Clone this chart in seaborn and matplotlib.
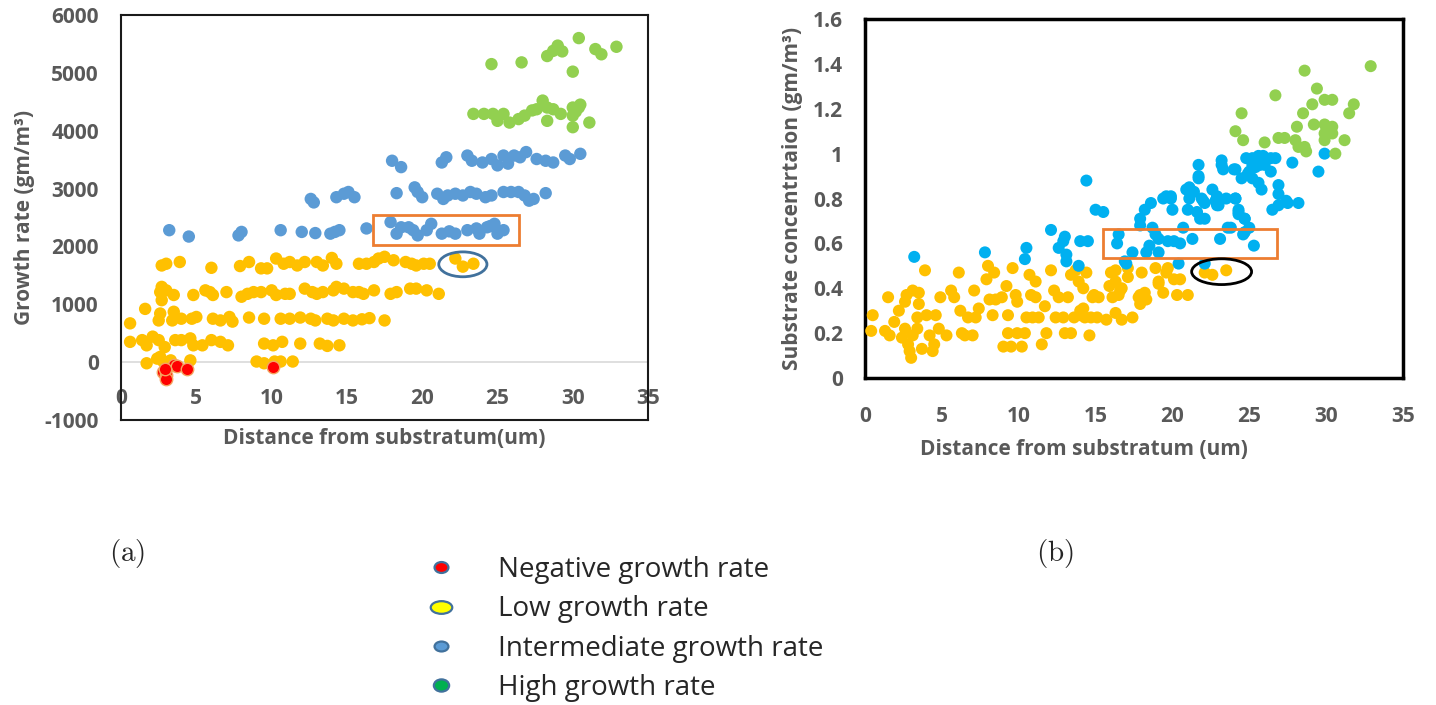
import numpy as np
import pandas as pd
import matplotlib
matplotlib.use("Agg")
import matplotlib.pyplot as plt
import seaborn as sns
from matplotlib.lines import Line2D
from matplotlib.path import Path
from matplotlib.patches import Rectangle, Ellipse

# ---------------- data: panel (a) growth rate ----------------
low_x = [2.7, 3.0, 3.9, 6.0, 7.9, 8.5, 9.3, 9.7, 10.3, 10.8, 11.2, 11.7, 12.2, 13.0, 13.4, 14.0, 14.3, 15.8,
         16.3, 16.8, 17.1, 17.5, 18.1, 18.9, 19.3, 19.6, 20.1, 20.5, 22.2, 22.7, 23.4,
         2.7, 2.6, 2.7, 3.0, 3.5, 4.8, 5.6, 5.9, 6.1, 7.0, 8.0, 8.4, 8.8, 9.3, 10.0, 10.3, 10.9, 11.2, 12.2, 12.7,
         13.0, 13.4, 14.1, 14.3, 14.8, 15.4, 15.8, 16.1, 16.8, 17.9, 18.3, 19.2, 19.6, 20.3, 21.1,
         0.6, 2.6, 2.5, 3.5, 3.4, 4.0, 4.7, 5.0, 6.1, 6.6, 7.2, 7.4, 8.5, 9.5, 10.6, 11.2, 11.9, 12.6, 12.9, 13.7,
         14.1, 14.8, 15.4, 16.0, 16.5, 17.5, 1.6,
         0.6, 1.4, 1.7, 2.1, 2.5, 2.9, 3.6, 4.0, 4.6, 4.8, 5.4, 6.0, 6.6, 7.1, 9.5, 10.1, 10.7, 11.9, 13.2, 13.7, 14.5,
         1.7, 2.4, 2.8, 3.3, 4.6, 9.0, 9.5, 10.2, 10.6, 11.4, 2.6]
low_y = [1670, 1700, 1730, 1630, 1660, 1730, 1620, 1620, 1790, 1700, 1730, 1670, 1730, 1730, 1670, 1800, 1700, 1700,
         1700, 1730, 1790, 1820, 1760, 1730, 1700, 1670, 1700, 1700, 1790, 1650, 1700,
         1300, 1210, 1070, 1240, 1160, 1160, 1240, 1210, 1160, 1210, 1130, 1180, 1210, 1210, 1240, 1160, 1180, 1180,
         1270, 1210, 1180, 1210, 1240, 1300, 1270, 1210, 1210, 1180, 1240, 1180, 1210, 1270, 1270, 1240, 1180,
         670, 840, 720, 870, 720, 750, 750, 780, 750, 720, 780, 700, 770, 750, 750, 750, 770, 750, 720, 750,
         720, 750, 720, 740, 760, 720, 920,
         350, 380, 290, 440, 380, 260, 380, 380, 410, 290, 290, 380, 350, 290, 320, 290, 350, 320, 320, 280, 290,
         -20, 60, 10, 30, 30, 10, -20, 10, 10, 10, 90]

mid_x = [3.2, 4.5, 7.8, 8.0, 10.6, 12.0, 12.9, 13.9, 14.2, 14.5, 16.3, 17.9, 18.3, 18.6, 19.1, 19.7, 20.3, 20.6,
         21.3, 22.2, 23.0, 23.6, 23.8, 24.3, 24.8, 25.0, 25.4, 19.4, 21.8, 24.5,
         12.6, 12.8, 14.3, 14.8, 15.1, 15.5, 18.3, 19.5, 19.7, 20.0, 21.0, 21.4, 21.7, 22.2, 22.7, 23.2, 23.6, 24.2,
         24.6, 25.4, 25.9, 26.4, 26.8, 27.1, 27.4, 28.2,
         18.0, 18.6, 21.3, 21.6, 23.0, 23.3, 24.0, 24.6, 25.0, 25.4, 25.7, 26.1, 26.5, 26.9, 27.6, 28.2, 28.7, 29.5,
         29.8, 30.5]
mid_y = [2280, 2170, 2190, 2250, 2280, 2250, 2230, 2220, 2250, 2280, 2310, 2420, 2220, 2330, 2330, 2190, 2280, 2390,
         2220, 2220, 2280, 2310, 2220, 2330, 2390, 2220, 2280, 2280, 2260, 2350,
         2820, 2760, 2850, 2910, 2940, 2850, 2920, 3020, 2940, 2850, 2910, 2820, 2880, 2910, 2880, 2940, 2910, 2850,
         2880, 2940, 2940, 2940, 2880, 2790, 2820, 2920,
         3480, 3370, 3450, 3540, 3570, 3480, 3450, 3510, 3400, 3570, 3430, 3570, 3540, 3630, 3510, 3480, 3450, 3570,
         3510, 3600]

high_x = [23.4, 24.1, 24.7, 25.0, 25.4, 25.8, 26.4, 26.8, 27.3, 27.6, 28.0, 28.3, 28.3, 28.7, 29.2, 30.0, 30.0, 30.0,
          30.4, 31.1, 30.2, 30.5,
          24.6, 26.6, 28.3, 28.7, 29.0, 29.3, 30.0, 30.4, 31.5, 31.9, 32.9]
high_y = [4290, 4290, 4290, 4170, 4290, 4140, 4200, 4260, 4350, 4370, 4520, 4400, 4170, 4370, 4290, 4400, 4260, 4060,
          4400, 4140, 4330, 4450,
          5150, 5180, 5290, 5380, 5470, 5370, 5020, 5600, 5410, 5320, 5450]

neg_x = [2.8, 3.0, 3.0, 3.5, 3.7, 4.4, 10.1, 2.9]
neg_y = [-170, -220, -300, -50, -70, -120, -80, -120]

# ---------------- data: panel (b) substrate concentration ----------------
sub_low_x = [0.5, 0.4, 1.5, 1.3, 1.6, 1.9, 2.2, 2.4, 2.6, 2.6, 2.7, 2.8, 2.9, 3.0, 3.1, 3.1, 3.4, 3.5, 3.5, 3.4,
             3.7, 3.9, 4.0, 4.2, 4.4, 4.5, 4.6, 4.8, 4.9, 5.3, 5.6, 5.8, 6.1, 6.2, 6.3, 6.5, 6.7, 7.0, 7.1, 7.2,
             7.4, 7.9, 8.0, 8.1, 8.3, 8.4, 8.5, 8.9, 9.0, 9.2, 9.3, 9.3, 9.5, 9.6, 9.8, 9.9, 9.9, 10.2, 10.4, 10.5,
             10.7, 10.8, 10.9, 11.1, 11.1, 11.3, 11.5, 11.7, 11.8, 12.1, 12.3, 12.4, 12.6, 12.9, 13.0, 13.2, 13.4,
             13.4, 13.6, 13.7, 13.9, 14.0, 14.2, 14.3, 14.4, 14.6, 14.7, 14.8, 15.1,
             16.0, 16.3, 16.3, 15.9, 16.1, 16.5, 16.7, 17.1, 17.1, 18.0, 18.3, 17.9, 17.9, 18.9, 19.1, 19.4, 19.7,
             20.1, 20.5, 20.3, 21.0, 19.6, 22.1, 22.6, 23.5, 15.7, 16.3, 16.7, 17.4, 16.6, 17.8, 18.2, 19.1, 14.9,
             15.2, 14.2, 14.0]
sub_low_y = [0.28, 0.21, 0.36, 0.21, 0.19, 0.25, 0.30, 0.18, 0.22, 0.34, 0.37, 0.15, 0.12, 0.09, 0.19, 0.39, 0.22,
             0.38, 0.33, 0.27, 0.13, 0.48, 0.28, 0.19, 0.12, 0.15, 0.28, 0.22, 0.36, 0.19, 0.39, 0.36, 0.47, 0.30,
             0.20, 0.19, 0.27, 0.19, 0.39, 0.27, 0.31, 0.44, 0.50, 0.35, 0.28, 0.47, 0.35, 0.36, 0.14, 0.41, 0.28,
             0.20, 0.14, 0.49, 0.37, 0.34, 0.20, 0.14, 0.20, 0.27, 0.46, 0.37, 0.27, 0.43, 0.36, 0.27, 0.15, 0.32,
             0.20, 0.48, 0.39, 0.27, 0.36, 0.27, 0.20, 0.36, 0.20, 0.46, 0.27, 0.48, 0.43, 0.30, 0.40, 0.27, 0.47,
             0.19, 0.27, 0.36, 0.27,
             0.47, 0.48, 0.43, 0.41, 0.36, 0.37, 0.40, 0.49, 0.45, 0.47, 0.35, 0.33, 0.37, 0.49, 0.43, 0.38, 0.49,
             0.44, 0.44, 0.37, 0.37, 0.47, 0.47, 0.46, 0.48, 0.26, 0.29, 0.26, 0.27, 0.39, 0.36, 0.38, 0.42, 0.37,
             0.36, 0.31, 0.28]

sub_mid_x = [3.2, 7.8, 10.5, 10.4, 12.1, 12.6, 12.9, 13.0, 13.1, 13.1, 13.9, 14.0, 14.5, 14.4, 15.0, 15.5, 16.5,
             16.4, 17.4, 16.9, 17.9, 18.2, 18.6, 18.7, 18.9, 19.1, 18.5, 18.3, 19.1, 19.4, 19.9, 20.0, 19.7, 20.1,
             20.5, 20.4, 20.7, 21.1, 21.1, 21.4, 21.3, 21.0, 21.6, 21.7, 21.7, 22.1, 22.1, 22.0, 22.8, 22.9, 23.1,
             23.2, 23.3, 23.5, 23.6, 24.1, 24.1, 24.3, 24.5, 24.7, 24.6, 24.8, 25.0, 25.0, 25.3, 25.2,
             23.8, 24.3, 24.7, 26.5, 26.9, 27.5, 28.2, 17.0,
             23.2, 24.0, 25.6, 25.9, 26.4, 26.7, 25.4, 25.7, 26.0, 26.4, 24.9, 25.2, 25.6, 25.8, 27.8, 29.5, 29.9,
             26.9, 26.9, 27.4, 22.9, 22.6, 21.7, 20.9, 19.6, 19.9, 21.1, 21.9, 22.1, 23.0, 24.1, 21.8, 24.3, 24.7,
             17.9, 25.2]
sub_mid_y = [0.54, 0.56, 0.58, 0.53, 0.66, 0.58, 0.61, 0.63, 0.55, 0.52, 0.50, 0.61, 0.61, 0.88, 0.75, 0.74, 0.64,
             0.60, 0.56, 0.52, 0.71, 0.75, 0.78, 0.67, 0.64, 0.62, 0.59, 0.56, 0.56, 0.80, 0.81, 0.75, 0.61, 0.61,
             0.60, 0.51, 0.67, 0.85, 0.80, 0.83, 0.62, 0.75, 0.74, 0.90, 0.95, 0.71, 0.51, 0.79, 0.79, 0.77, 0.62,
             0.95, 0.93, 0.80, 0.67, 0.80, 0.93, 0.75, 0.89, 0.71, 0.64, 0.98, 0.67, 0.92, 0.59, 0.95,
             0.67, 0.73, 0.65, 0.75, 0.77, 0.78, 0.78, 0.51,
             0.97, 0.93, 0.99, 0.99, 0.98, 0.98, 0.94, 0.95, 0.95, 0.92, 0.91, 0.89, 0.87, 0.84, 0.96, 0.92, 1.00,
             0.86, 0.82, 0.79, 0.81, 0.84, 0.89, 0.84, 0.81, 0.80, 0.84, 0.80, 0.78, 0.77, 0.80, 0.71, 0.74, 0.71,
             0.68, 0.98]

sub_high_x = [24.1, 24.5, 24.6, 26.0, 26.7, 26.9, 27.3, 28.0, 28.2, 28.6, 28.7, 28.1, 28.5, 29.1, 29.4, 28.6,
              29.2, 29.9, 30.4, 29.9, 30.4, 29.9, 30.4, 29.9, 30.6, 31.2, 31.5, 31.8, 32.9]
sub_high_y = [1.10, 1.18, 1.06, 1.05, 1.26, 1.07, 1.07, 1.06, 1.03, 1.03, 1.01, 1.12, 1.18, 1.22, 1.29, 1.37,
              1.13, 1.24, 1.24, 1.13, 1.12, 1.09, 1.09, 1.06, 1.00, 1.06, 1.18, 1.22, 1.39]

x_ticks = [0, 5, 10, 15, 20, 25, 30, 35]
growth_ticks = [-1000, 0, 1000, 2000, 3000, 4000, 5000, 6000]
conc_ticks = [0, 0.2, 0.4, 0.6, 0.8, 1.0, 1.2, 1.4, 1.6]
conc_tick_labels = ["0", "0.2", "0.4", "0.6", "0.8", "1", "1.2", "1.4", "1.6"]
legend_labels = ["Negative growth rate", "Low growth rate", "Intermediate growth rate", "High growth rate"]

# highlighted regions (x0, y0, width, height) / ellipse (cx, cy, w, h)
box_a = (16.7, 2020, 9.7, 530)
oval_a = (22.7, 1690, 3.2, 430)
box_b = (15.5, 0.536, 11.3, 0.129)
oval_b = (23.2, 0.474, 3.9, 0.115)

# ---------------- figure ----------------
sns.set_style("white")
plt.rcParams["font.family"] = ["Open Sans", "DejaVu Sans"]
plt.rcParams["mathtext.fontset"] = "cm"

GRAY = "#595959"
fig = plt.figure(figsize=(14.36, 7.05), dpi=100)

dfa = pd.concat([
    pd.DataFrame({"x": low_x, "y": low_y, "g": "low"}),
    pd.DataFrame({"x": mid_x, "y": mid_y, "g": "mid"}),
    pd.DataFrame({"x": high_x, "y": high_y, "g": "high"}),
    pd.DataFrame({"x": neg_x, "y": neg_y, "g": "neg"}),
], ignore_index=True)
dfb = pd.concat([
    pd.DataFrame({"x": sub_low_x, "y": sub_low_y, "g": "low"}),
    pd.DataFrame({"x": sub_mid_x, "y": sub_mid_y, "g": "mid"}),
    pd.DataFrame({"x": sub_high_x, "y": sub_high_y, "g": "high"}),
], ignore_index=True)

pal_a = {"low": "#FFC000", "mid": "#5B9BD5", "high": "#92D050", "neg": "#FF0000"}
pal_b = {"low": "#FFC000", "mid": "#00B0F0", "high": "#92D050"}

# ---- panel (a)
ax1 = fig.add_axes([0.0843, 0.4043, 0.367, 0.5745])
sns.scatterplot(data=dfa[dfa.g != "neg"], x="x", y="y", hue="g", palette=pal_a, s=80,
                linewidth=0, legend=False, ax=ax1, zorder=3)
sns.scatterplot(data=dfa[dfa.g == "neg"], x="x", y="y", color=pal_a["neg"], s=80,
                edgecolor="#F4A460", linewidth=1.0, legend=False, ax=ax1, zorder=4)
ax1.set_xlim(0, 35)
ax1.set_ylim(-1000, 6000)
ax1.set_yticks(growth_ticks, labels=[str(t) for t in growth_ticks], fontweight="bold")
ax1.tick_params(axis="y", length=0, pad=16, labelsize=15, labelcolor=GRAY)
ax1.tick_params(axis="x", length=0, labelbottom=False)
for sp in ax1.spines.values():
    sp.set_visible(True)
    sp.set_color("#1a1a1a")
    sp.set_linewidth(1.5)
sec = ax1.secondary_xaxis(1000 / 7000)
sec.set_xticks(x_ticks, labels=[str(t) for t in x_ticks], fontweight="bold")
sec.tick_params(length=0, pad=19, labelsize=15, labelcolor=GRAY)
sec.spines["bottom"].set_color("#D9D9D9")
sec.spines["bottom"].set_linewidth(1.2)
ax1.set_xlabel("Distance from substratum(um)", fontsize=15, fontweight="bold", color=GRAY, labelpad=6)
ax1.set_ylabel("Growth rate (gm/m³)", fontsize=15, fontweight="bold", color=GRAY, labelpad=7)
ax1.add_patch(Rectangle(box_a[:2], box_a[2], box_a[3], fill=False, edgecolor="#ED7D31", lw=2, zorder=5))
ax1.add_patch(Ellipse(oval_a[:2], oval_a[2], oval_a[3], fill=False, edgecolor="#41719C", lw=2, zorder=5))

# ---- panel (b)
ax2 = fig.add_axes([0.6024, 0.4638, 0.3746, 0.5092])
sns.scatterplot(data=dfb, x="x", y="y", hue="g", palette=pal_b, s=75,
                linewidth=0, legend=False, ax=ax2, zorder=3)
ax2.set_xlim(0, 35)
ax2.set_ylim(0, 1.6)
ax2.set_xticks(x_ticks, labels=[str(t) for t in x_ticks], fontweight="bold")
ax2.set_yticks(conc_ticks, labels=conc_tick_labels, fontweight="bold")
ax2.tick_params(axis="y", length=0, pad=16, labelsize=15, labelcolor=GRAY)
ax2.tick_params(axis="x", length=0, pad=20, labelsize=15, labelcolor=GRAY)
for sp in ax2.spines.values():
    sp.set_visible(True)
    sp.set_color("black")
    sp.set_linewidth(2.5)
ax2.set_xlabel("Distance from substratum (um)", fontsize=15, fontweight="bold", color=GRAY, labelpad=10)
ax2.xaxis.set_label_coords(0.407, -0.17)
ax2.set_ylabel("Substrate concentrtaion (gm/m³)", fontsize=15, fontweight="bold", color=GRAY, labelpad=7)
ax2.add_patch(Rectangle(box_b[:2], box_b[2], box_b[3], fill=False, edgecolor="#ED7D31", lw=2, zorder=5))
ax2.add_patch(Ellipse(oval_b[:2], oval_b[2], oval_b[3], fill=False, edgecolor="black", lw=2, zorder=5))

# ---- captions
fig.text(127 / 1436, 1 - 553 / 705, r"$\mathrm{(a)}$", fontsize=21, ha="center", va="center")
fig.text(1055 / 1436, 1 - 553 / 705, r"$\mathrm{(b)}$", fontsize=21, ha="center", va="center")

# ---- legend with elliptical markers
def oval(aspect):
    c = Path.unit_circle()
    return Path(c.vertices * np.array([1.0, 1.0 / aspect]), c.codes)

leg_specs = [("#FF0000", 1.27, 10), ("#FFFF00", 1.7, 15.5), ("#5B9BD5", 1.4, 10), ("#00B050", 1.25, 11)]
handles = [Line2D([], [], linestyle="none", marker=oval(a), markersize=ms, markerfacecolor=c,
                  markeredgecolor="#41719C", markeredgewidth=1.6) for c, a, ms in leg_specs]
fig.legend(handles, legend_labels, loc="center left", bbox_to_anchor=(385 / 1436, 1 - 629 / 705),
           frameon=False, fontsize=20, handlelength=2.2, handletextpad=0.95, labelspacing=0.41,
           borderpad=0.4)

fig.savefig("out.png", dpi=100)
